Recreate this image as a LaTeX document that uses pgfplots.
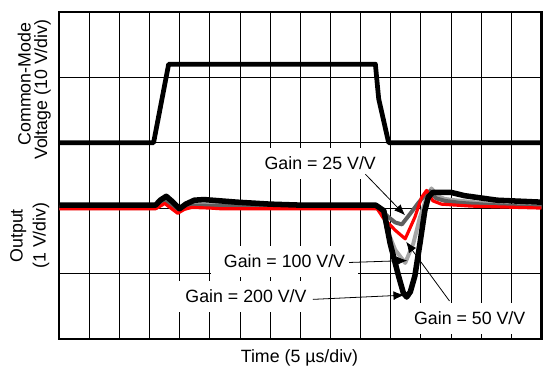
\documentclass[border=0pt]{standalone}
\usepackage{fontspec}
\setmainfont{Liberation Sans}
\usepackage{pgfplots}
\pgfplotsset{compat=1.18}
\usetikzlibrary{arrows.meta}

\definecolor{lgray}{RGB}{165,165,165}
\definecolor{dgray}{RGB}{95,95,95}

\begin{document}
\begin{tikzpicture}[
    lbl/.style={fill=white, inner xsep=6.5pt, inner ysep=4.5pt, font=\fontsize{9}{11}\selectfont},
    ax/.style={font=\fontsize{9}{11}\selectfont},
    arr/.style={line width=0.4pt, -{Latex[length=5.5pt,width=4.5pt]}}
]
\begin{axis}[
    name=ax,
    scale only axis,
    width=244pt, height=165.5pt,
    xmin=0, xmax=16, ymin=0, ymax=5,
    xtick={0,...,16}, ytick={0,...,5},
    xticklabels={}, yticklabels={},
    major tick length=0pt,
    grid=major,
    major grid style={black, line width=0.5pt},
    axis line style={line width=1.2pt},
    clip=false
]
% axis titles
\node[ax, rotate=90, anchor=base] at (axis cs:-0.95,3.894) {Common-Mode};
\node[ax, rotate=90, anchor=base] at (axis cs:-0.40,3.811) {Voltage (10 V/div)};
\node[ax, rotate=90, anchor=base] at (axis cs:-1.213,1.576) {Output};
\node[ax, rotate=90, anchor=base] at (axis cs:-0.452,1.580) {(1 V/div)};
\node[ax, anchor=base] at (axis cs:7.97,-0.36) {Time (5 µs/div)};

% label boxes (cover the grid)
\node[lbl] at (axis cs:8.66,2.68) {Gain = 25 V/V};
\node[lbl] at (axis cs:7.475,1.183) {Gain = 100 V/V};
\node[lbl] at (axis cs:6.197,0.654) {Gain = 200 V/V};
\node[lbl] at (axis cs:13.62,0.317) {Gain = 50 V/V};

% common-mode step
\addplot[black, line width=2.4pt, line join=round] coordinates {
    (0,3.0) (3.13,3.0) (3.63,4.2) (10.49,4.2) (10.6,3.67) (10.93,3.0) (16,3.0)
};

% gain = 100 V/V
\addplot[lgray, line width=2pt, line join=round] coordinates {
    (0,2.0) (3.2,2.0) (3.55,2.1) (3.75,2.02) (3.95,1.97) (4.2,2.02) (4.5,2.06)
    (5.5,2.05) (7,2.02) (10.55,2.0) (10.75,1.9) (10.93,1.61) (11.15,1.36)
    (11.48,1.16) (11.75,1.46) (11.97,1.86) (12.19,2.16) (12.35,2.30) (12.57,2.18)
    (12.79,2.14) (13.11,2.12) (14.21,2.07) (15,2.03) (16,2.02)
};

% gain = 25 V/V
\addplot[dgray, line width=2pt, line join=round] coordinates {
    (0,2.02) (3.2,2.02) (3.55,2.1) (3.95,1.98) (4.3,2.04) (7,2.02) (10.55,2.02)
    (10.93,1.86) (11.15,1.78) (11.37,1.75) (11.64,1.91) (11.9,2.07) (12.1,2.18)
    (12.3,2.26) (12.5,2.15) (12.8,2.11) (13.3,2.08) (14.2,2.05) (15,2.03) (16,2.02)
};

% gain = 50 V/V
\addplot[red, line width=1.6pt, line join=round] coordinates {
    (0,1.99) (3.2,1.99) (3.5,2.07) (3.7,2.0) (3.93,1.92) (4.15,1.98) (4.4,2.01)
    (5.0,2.0) (5.34,1.99) (10.55,1.99) (10.75,1.85) (11.15,1.66) (11.48,1.53)
    (11.8,1.86) (12.02,2.16) (12.19,2.27) (12.4,2.11) (12.68,2.06) (13.66,2.03)
    (16,2.0)
};

% gain = 200 V/V
\addplot[black, line width=2.8pt, line join=round] coordinates {
    (0,2.045) (3.2,2.045) (3.35,2.12) (3.55,2.18) (3.75,2.1) (3.99,1.99) (4.2,2.06)
    (4.48,2.12) (4.8,2.13) (5.9,2.09) (7.0,2.06) (8,2.045) (10.5,2.045)
    (10.77,1.96) (10.98,1.46) (11.26,0.96) (11.42,0.7) (11.53,0.64) (11.65,0.72)
    (11.8,0.96) (11.97,1.46) (12.13,1.96) (12.25,2.17) (12.4,2.24) (13.0,2.24)
    (13.44,2.19) (14.53,2.12) (16,2.09)
};

% pointers
\draw[arr] (axis cs:10.16,2.517) -- (axis cs:11.475,1.89);
\draw[arr] (axis cs:9.617,1.168) -- (axis cs:11.55,1.198);
\draw[arr] (axis cs:8.417,0.604) -- (axis cs:11.45,0.669);
\draw[arr] (axis cs:12.95,0.579) -- (axis cs:11.51,1.485);
\end{axis}
\path ([xshift=-30pt,yshift=-12.85pt]ax.south west) rectangle ([yshift=6pt]ax.north east);
\end{tikzpicture}
\end{document}
